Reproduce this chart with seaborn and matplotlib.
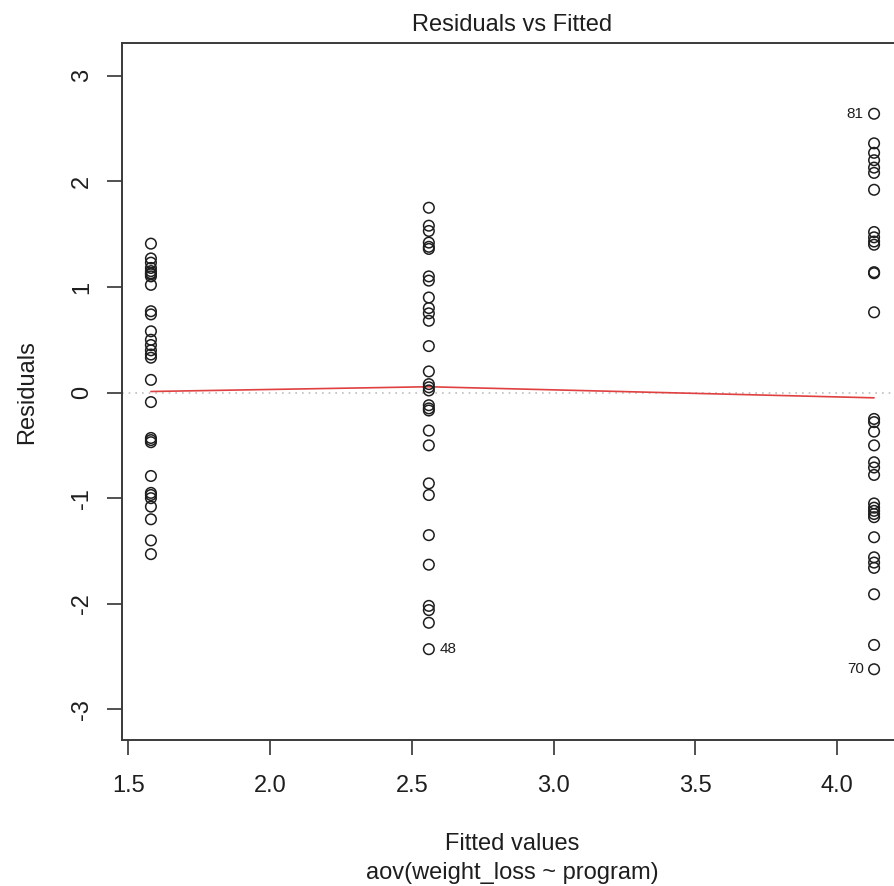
import numpy as np
import pandas as pd
import matplotlib
matplotlib.use("Agg")
import matplotlib.pyplot as plt
import seaborn as sns

# fitted value of each program group (x positions of the three columns)
fitted_groups = [1.58, 2.56, 4.13]

# residuals, one list per group
resid_g1 = [1.41, 1.27, 1.23, 1.18, 1.15, 1.13, 1.12, 1.10, 1.02, 0.77, 0.74,
            0.58, 0.50, 0.45, 0.40, 0.36, 0.33, 0.12, -0.09, -0.43, -0.45,
            -0.47, -0.79, -0.95, -0.97, -1.00, -1.08, -1.20, -1.40, -1.53]
resid_g2 = [1.75, 1.58, 1.53, 1.42, 1.38, 1.36, 1.10, 1.06, 0.90, 0.80, 0.75,
            0.68, 0.44, 0.20, 0.08, 0.05, 0.02, -0.12, -0.15, -0.17, -0.36,
            -0.50, -0.86, -0.97, -1.35, -1.63, -2.02, -2.06, -2.18, -2.43]
resid_g3 = [2.64, 2.36, 2.27, 2.20, 2.13, 2.08, 1.92, 1.52, 1.47, 1.43, 1.40,
            1.14, 1.13, 0.76, -0.25, -0.28, -0.37, -0.50, -0.66, -0.71, -0.78,
            -1.05, -1.09, -1.12, -1.15, -1.18, -1.37, -1.56, -1.61, -1.66,
            -1.91, -2.39, -2.62]

# red smoother values at each fitted value
smooth_y = [0.01, 0.055, -0.05]

# ids of the three largest residuals, in order of |residual|
outlier_ids = ["81", "70", "48"]

df = pd.DataFrame({
    "fitted": np.concatenate([[f] * len(r) for f, r in
                              zip(fitted_groups, [resid_g1, resid_g2, resid_g3])]),
    "resid": resid_g1 + resid_g2 + resid_g3,
})

sns.set_style("white")
plt.rcParams["font.family"] = ["Liberation Sans", "DejaVu Sans"]

W, H = 894, 886
FS = 17
ink = "#1e1e1e"

fig = plt.figure(figsize=(W / 100, H / 100), dpi=100)
ax = fig.add_axes([122 / W, (H - 740) / H, 781 / W, 697 / H])

ax.axhline(0, color="#bebebe", ls=(0, (1, 3)), lw=1.2, zorder=1)
sns.scatterplot(data=df, x="fitted", y="resid", ax=ax, marker="o", s=58,
                facecolor="none", edgecolor=ink, linewidth=1.1, zorder=3)
sns.lineplot(x=fitted_groups, y=smooth_y, ax=ax, color="#e04040", lw=1.2,
             zorder=2)

# label the three most extreme points
mid = (min(fitted_groups) + max(fitted_groups)) / 2
top = df.reindex(df["resid"].abs().sort_values(ascending=False).index)[:3]
for lab, (_, row) in zip(outlier_ids, top.iterrows()):
    if row["fitted"] > mid:
        ax.annotate(lab, (row["fitted"], row["resid"]), xytext=(-7.5, 0),
                    textcoords="offset points", ha="right", va="center",
                    fontsize=11, color=ink)
    else:
        ax.annotate(lab, (row["fitted"], row["resid"]), xytext=(7.5, 0),
                    textcoords="offset points", ha="left", va="center",
                    fontsize=11, color=ink)

ax.set_xlim(1.478, 4.232)
ax.set_ylim(-3.29, 3.31)
ax.set_xticks([1.5, 2.0, 2.5, 3.0, 3.5, 4.0])
ax.set_xticklabels(["1.5", "2.0", "2.5", "3.0", "3.5", "4.0"])
ax.set_yticks([-3, -2, -1, 0, 1, 2, 3])
ax.set_yticklabels(["-3", "-2", "-1", "0", "1", "2", "3"])
ax.tick_params(axis="both", direction="out", length=11, width=1.2,
               color="#333333", labelsize=FS, labelcolor=ink,
               left=True, bottom=True)
ax.tick_params(axis="x", pad=14)
ax.tick_params(axis="y", labelrotation=90, pad=10)
for lab in ax.get_yticklabels():
    lab.set_va("center")

for side in ["left", "bottom", "top"]:
    ax.spines[side].set_color("#3a3a3a")
    ax.spines[side].set_linewidth(1.4)
ax.spines["right"].set_visible(False)

ax.set_xlabel("")
ax.set_ylabel("")
cx = (122 + 903) / 2 / W
fig.text(cx, 1 - 31 / H, "Residuals vs Fitted", ha="center", va="baseline",
         fontsize=FS, color=ink)
fig.text(cx, 1 - 850 / H, "Fitted values", ha="center", va="baseline",
         fontsize=FS, color=ink)
fig.text(cx, 1 - 879 / H, "aov(weight_loss ~ program)", ha="center",
         va="baseline", fontsize=FS, color=ink)
fig.text(33 / W, 1 - 392 / H, "Residuals", rotation=90, rotation_mode="anchor",
         ha="center", va="baseline", fontsize=FS, color=ink)

fig.savefig("out.png", dpi=100)
